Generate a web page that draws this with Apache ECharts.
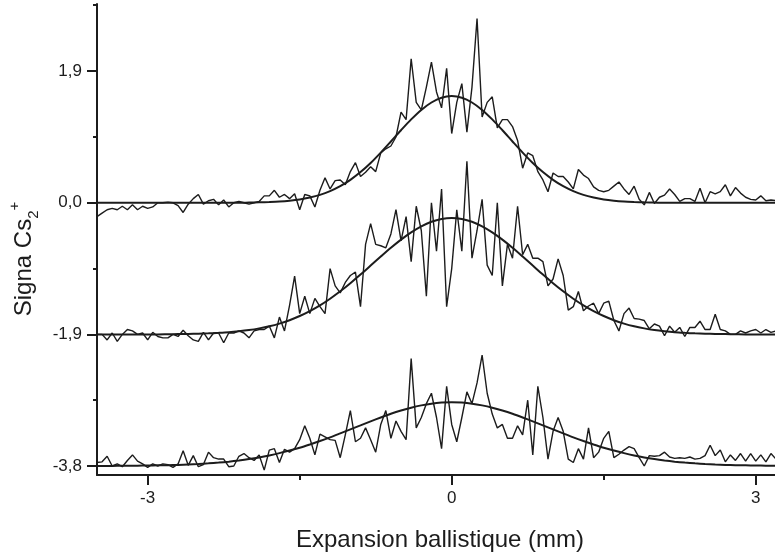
<!DOCTYPE html>
<html>
<head>
<meta charset="utf-8">
<script src="https://cdn.jsdelivr.net/npm/echarts@6/dist/echarts.min.js"></script>
<style>
  html, body { margin: 0; padding: 0; background: #fff; }
  #chart { width: 775px; height: 556px; }
</style>
</head>
<body>
<div id="chart"></div>
<script>
// sampling of the measured traces (mm)
const traceStart = -3.5;
const traceStep = 0.05;
// sampling of the fitted gaussians (mm)
const fitStart = -3.5;
const fitStep = 0.1;

// vertical shift of each trace on the plot
const traceOffsets = [0, -1.9, -3.8];

// signal, top trace (offset 0)
const topTrace = [-0.2,
  -0.15, -0.1, -0.08, -0.1, -0.05, -0.1, -0.03, -0.1, -0.05, -0.08,
  -0.06, 0.0, 0.0, 0.01, 0.0, -0.04, -0.14, -0.02, 0.06, 0.12,
  -0.02, 0.03, 0.05, -0.03, 0.04, -0.06, 0.0, 0.02, 0.0, -0.02,
  0.0, 0.02, 0.1, 0.1, 0.18, 0.08, 0.12, 0.06, 0.13, -0.1,
  0.12, 0.1, -0.06, 0.18, 0.36, 0.2, 0.32, 0.33, 0.26, 0.45,
  0.58, 0.38, 0.44, 0.52, 0.45, 0.72, 0.78, 0.82, 0.95, 1.31,
  1.2, 2.08, 1.45, 1.34, 1.67, 2.03, 1.6, 1.37, 1.94, 1.0,
  1.45, 1.72, 1.02, 1.67, 2.66, 1.24, 1.45, 1.53, 1.08, 1.2,
  1.2, 1.1, 0.9, 0.5, 0.72, 0.68, 0.45, 0.33, 0.16, 0.43,
  0.38, 0.38, 0.3, 0.2, 0.48, 0.4, 0.35, 0.23, 0.18, 0.16,
  0.18, 0.24, 0.3, 0.2, 0.12, 0.24, 0.05, -0.03, 0.15, -0.01,
  0.08, 0.11, 0.2, 0.12, 0.02, 0.06, 0.06, 0.02, 0.21, 0.0,
  0.16, 0.13, 0.16, 0.26, 0.1, 0.22, 0.14, 0.08, 0.05, 0.04,
  0.1, 0.03, 0.04, 0.03];

// signal, middle trace (offset -1.9)
const midTrace = [0.0,
  0.0, -0.08, 0.02, -0.1, 0.0, 0.07, 0.05, 0.0, 0.02, -0.08,
  0.03, -0.03, -0.05, -0.05, 0.0, -0.03, 0.06, -0.02, -0.08, -0.1,
  0.03, -0.08, 0.02, 0.02, -0.12, 0.02, 0.02, 0.05, 0.02, -0.05,
  0.05, 0.07, 0.07, 0.12, -0.05, 0.25, 0.05, 0.42, 0.84, 0.3,
  0.55, 0.3, 0.52, 0.4, 0.3, 0.95, 0.7, 0.6, 0.75, 0.85,
  0.9, 0.4, 1.3, 1.6, 1.3, 1.28, 1.25, 1.45, 1.8, 1.35,
  1.7, 1.05, 1.85, 1.5, 0.55, 1.9, 1.2, 2.1, 0.4, 0.95,
  1.8, 1.2, 2.5, 1.1, 1.5, 1.95, 1.0, 0.85, 1.9, 0.7,
  1.3, 1.1, 1.85, 1.15, 1.3, 1.1, 1.1, 1.05, 0.7, 0.8,
  1.09, 0.85, 0.35, 0.4, 0.62, 0.34, 0.41, 0.45, 0.3, 0.45,
  0.48, 0.2, 0.05, 0.3, 0.38, 0.23, 0.22, 0.2, 0.08, 0.15,
  0.12, -0.02, 0.12, 0.03, 0.1, -0.03, 0.1, 0.1, 0.19, 0.07,
  0.07, 0.29, 0.07, 0.05, 0.0, 0.0, 0.05, 0.02, 0.05, 0.07,
  0.02, 0.07, 0.03, 0.05];

// signal, bottom trace (offset -3.8)
const botTrace = [0.05,
  0.06, 0.14, 0.0, 0.03, -0.01, 0.08, 0.16, 0.07, 0.03, -0.02,
  0.03, 0.0, 0.03, 0.02, -0.02, 0.03, 0.22, 0.01, 0.15, -0.01,
  0.02, 0.2, 0.12, 0.1, 0.1, -0.01, 0.0, 0.14, 0.18, 0.12,
  0.08, 0.16, -0.06, 0.23, 0.25, 0.05, 0.24, 0.2, 0.25, 0.38,
  0.58, 0.4, 0.16, 0.46, 0.42, 0.38, 0.37, 0.12, 0.45, 0.8,
  0.35, 0.4, 0.55, 0.38, 0.2, 0.6, 0.8, 0.4, 0.65, 0.5,
  0.38, 1.55, 0.55, 0.7, 0.9, 1.05, 0.7, 0.25, 1.15, 0.6,
  0.35, 0.7, 1.07, 0.9, 1.2, 1.6, 1.05, 0.75, 0.55, 0.6,
  0.4, 0.4, 0.58, 0.45, 0.95, 0.16, 1.15, 0.7, 0.1, 0.5,
  0.7, 0.5, 0.1, 0.05, 0.25, 0.1, 0.55, 0.12, 0.2, 0.4,
  0.5, 0.12, 0.17, 0.23, 0.28, 0.25, 0.12, 0.0, 0.15, 0.14,
  0.15, 0.2, 0.13, 0.11, 0.12, 0.11, 0.13, 0.1, 0.11, 0.15,
  0.3, 0.15, 0.23, 0.06, 0.16, 0.08, 0.18, 0.07, 0.18, 0.07,
  0.16, 0.06, 0.18, 0.1];

// fitted curves, read at 0.1 mm steps
const topFit = [0, 0, 0, 0, 0, 0, 0, 0, 0, 0, 0, 0, 0, 0, 0,
  0.003, 0.006, 0.011, 0.018, 0.03, 0.048, 0.076, 0.114, 0.168, 0.239,
  0.331, 0.443, 0.575, 0.725, 0.885, 1.048, 1.204, 1.341, 1.448, 1.517,
  1.54,
  1.517, 1.448, 1.341, 1.204, 1.048, 0.885, 0.725, 0.575, 0.443, 0.331,
  0.239, 0.168, 0.114, 0.076, 0.048, 0.03, 0.018, 0.011, 0.006, 0.003,
  0, 0, 0, 0, 0, 0, 0, 0, 0, 0, 0, 0];

const midFit = [0, 0, 0, 0, 0, 0, 0,
  0.002, 0.004, 0.006, 0.01, 0.015, 0.022, 0.031, 0.045,
  0.063, 0.087, 0.117, 0.156, 0.205, 0.265, 0.336, 0.419, 0.515, 0.622,
  0.739, 0.863, 0.993, 1.123, 1.25, 1.368, 1.473, 1.56, 1.626, 1.666,
  1.68,
  1.666, 1.626, 1.56, 1.473, 1.368, 1.25, 1.123, 0.993, 0.863, 0.739,
  0.622, 0.515, 0.419, 0.336, 0.265, 0.205, 0.156, 0.117, 0.087, 0.063,
  0.045, 0.031, 0.022, 0.015, 0.01, 0.006, 0.004, 0.002,
  0, 0, 0, 0];

const botFit = [0.001, 0.001, 0.002, 0.003, 0.005, 0.006, 0.009, 0.012, 0.016, 0.022,
  0.029, 0.038, 0.049, 0.063, 0.08, 0.1, 0.124, 0.153, 0.186, 0.223,
  0.264, 0.311, 0.361, 0.414, 0.471, 0.529, 0.587, 0.645, 0.701, 0.754,
  0.801, 0.842, 0.875, 0.9, 0.915,
  0.92,
  0.915, 0.9, 0.875, 0.842, 0.801, 0.754, 0.701, 0.645, 0.587, 0.529,
  0.471, 0.414, 0.361, 0.311, 0.264, 0.223, 0.186, 0.153, 0.124, 0.1,
  0.08, 0.063, 0.049, 0.038, 0.029, 0.022, 0.016, 0.012, 0.009, 0.006,
  0.005, 0.003];

// axes
const xMin = -3.5, xMax = 3.19;
const yMin = -3.93, yMax = 2.87;
const xTickValues = [-3, 0, 3];
const xMinorTickValues = [-1.5, 1.5];
const yTickValues = [-3.8, -1.9, 0, 1.9];
const yMinorTickValues = [-2.85, -0.95, 0.95, 2.86];

const ink = '#1c1c1c';
const font = 'Liberation Sans, Arial, Helvetica, sans-serif';

function toPoints(values, start, step, offset) {
  return values.map((v, k) => [+(start + k * step).toFixed(3), +(v + offset).toFixed(3)]);
}

const traces = [topTrace, midTrace, botTrace];
const fits = [topFit, midFit, botFit];

const series = [];
traces.forEach((t, n) => {
  series.push({
    type: 'line',
    data: toPoints(t, traceStart, traceStep, traceOffsets[n]),
    showSymbol: false,
    lineStyle: { color: ink, width: 1.4 },
    z: 2
  });
});
fits.forEach((f, n) => {
  series.push({
    type: 'line',
    data: toPoints(f, fitStart, fitStep, traceOffsets[n]),
    showSymbol: false,
    smooth: 0.3,
    lineStyle: { color: ink, width: 2 },
    z: 3
  });
});

let myChart = echarts.init(document.getElementById('chart'), null, { renderer: 'canvas' });
myChart.setOption({
  animation: false,
  backgroundColor: '#fff',
  grid: { left: 97, right: 0, top: 4, bottom: 81, outerBoundsMode: 'none' },
  xAxis: [
    {
      type: 'value', min: xMin, max: xMax, position: 'bottom',
      axisLine: { onZero: false, lineStyle: { color: ink, width: 2 } },
      axisTick: { customValues: xTickValues, length: 10, lineStyle: { color: ink, width: 2 } },
      axisLabel: {
        customValues: xTickValues, margin: 15, fontSize: 17, color: ink, fontFamily: font,
        formatter: v => String(v)
      },
      splitLine: { show: false },
      name: 'Expansion ballistique (mm)',
      nameLocation: 'middle',
      nameGap: 53,
      nameTextStyle: { fontSize: 24, color: ink, fontFamily: font, padding: [0, 0, 0, 8] }
    },
    {
      type: 'value', min: xMin, max: xMax, position: 'bottom',
      axisLine: { show: false, onZero: false },
      axisTick: { customValues: xMinorTickValues, length: 5, lineStyle: { color: ink, width: 2 } },
      axisLabel: { show: false },
      splitLine: { show: false }
    }
  ],
  yAxis: [
    {
      type: 'value', min: yMin, max: yMax, position: 'left',
      axisLine: { show: true, onZero: false, lineStyle: { color: ink, width: 2 } },
      axisTick: { show: true, customValues: yTickValues, length: 10, lineStyle: { color: ink, width: 2 } },
      axisLabel: {
        customValues: yTickValues, margin: 15, fontSize: 17, color: ink, fontFamily: font,
        formatter: v => v.toFixed(1).replace('.', ',')
      },
      splitLine: { show: false },
      name: '{m|Signa Cs}{sub|2}{sup|+}',
      nameLocation: 'middle',
      nameRotate: 90,
      nameGap: 52,
      nameTextStyle: {
        color: ink, fontFamily: font, fontSize: 24, padding: [0, 39, 0, 0],
        rich: {
          m: { fontSize: 24, fontFamily: font, color: ink, lineHeight: 34 },
          sub: { fontSize: 15, fontFamily: font, color: ink, verticalAlign: 'bottom', lineHeight: 15 },
          sup: { fontSize: 15, fontFamily: font, color: ink, verticalAlign: 'top', lineHeight: 15 }
        }
      }
    },
    {
      type: 'value', min: yMin, max: yMax, position: 'left',
      axisLine: { show: false, onZero: false },
      axisTick: { show: true, customValues: yMinorTickValues, length: 4, lineStyle: { color: ink, width: 2 } },
      axisLabel: { show: false },
      splitLine: { show: false }
    }
  ],
  series: series
});
</script>
</body>
</html>
